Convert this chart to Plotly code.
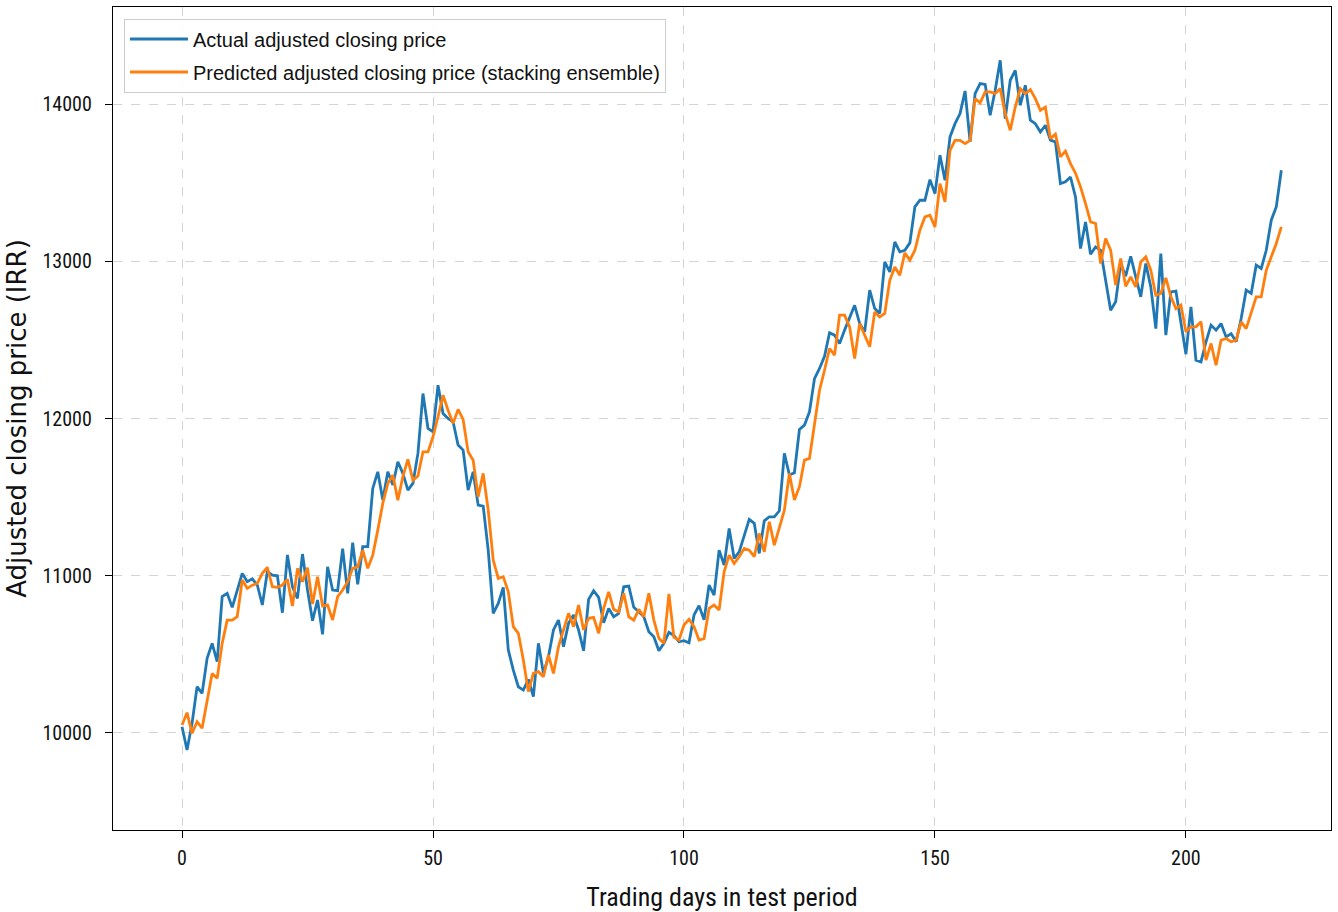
import plotly.graph_objects as go

actual_price = [
    10040, 9892, 10061, 10295, 10252, 10475, 10570, 10453, 10867, 10888,
    10799, 10909, 11015, 10962, 10980, 10941, 10814, 11026, 11004, 11000,
    10765, 11132, 10930, 10856, 11138, 10909, 10714, 10846, 10627, 11057,
    10909, 10905, 11172, 10888, 11210, 10945, 11185, 11185, 11555, 11661,
    11481, 11661, 11577, 11725, 11651, 11545, 11587, 11778, 12159, 11937,
    11916, 12212, 12032, 12000, 11979, 11831, 11799, 11545, 11661, 11449,
    11443, 11163, 10761, 10824, 10926, 10528, 10400, 10294, 10273, 10341,
    10231, 10570, 10379, 10485, 10655, 10718, 10549, 10697, 10750, 10655,
    10523, 10850, 10905, 10862, 10701, 10792, 10739, 10761, 10930, 10934,
    10799, 10771, 10739, 10644, 10612, 10523, 10570, 10640, 10620, 10580,
    10587, 10574, 10750, 10810, 10720, 10941, 10877, 11163, 11068, 11301,
    11110, 11152, 11248, 11358, 11333, 11142, 11349, 11375, 11375, 11413,
    11778, 11640, 11655, 11930, 11958, 12042, 12254, 12318, 12396, 12545,
    12530, 12477, 12562, 12640, 12720, 12604, 12551, 12816, 12699, 12668,
    12996, 12932, 13123, 13060, 13070, 13117, 13346, 13388, 13388, 13519,
    13430, 13674, 13515, 13791, 13875, 13939, 14083, 13759, 14066, 14130,
    14125, 13928, 14087, 14278, 13907, 14151, 14214, 13992, 14119, 13897,
    13875, 13822, 13865, 13770, 13759, 13494, 13505, 13536, 13409, 13081,
    13250, 13045, 13091, 13070, 12890, 12689, 12742, 12986, 12905, 13032,
    12901, 12774, 12986, 12837, 12572, 13049, 12530, 12805, 12810, 12594,
    12409, 12710, 12371, 12360, 12488, 12594, 12562, 12604, 12519, 12540,
    12488, 12636, 12816, 12795, 12975, 12954, 13070, 13261, 13346, 13579,
]

predicted_price = [
    10051, 10129, 9998, 10072, 10030, 10199, 10379, 10348, 10570, 10718,
    10718, 10740, 10973, 10920, 10940, 10951, 11015, 11053, 10930, 10926,
    10941, 10977, 10807, 11047, 10962, 11051, 10820, 10994, 10807, 10814,
    10718, 10867, 10909, 10962, 11047, 11057, 11163, 11047, 11131, 11290,
    11460, 11587, 11640, 11481, 11630, 11740, 11608, 11634, 11788, 11788,
    11884, 12011, 12149, 12053, 11969, 12058, 11994, 11788, 11735, 11502,
    11651, 11418, 11100, 10983, 10994, 10898, 10676, 10634, 10464, 10263,
    10379, 10390, 10358, 10496, 10379, 10549, 10655, 10761, 10676, 10814,
    10655, 10729, 10735, 10634, 10792, 10898, 10786, 10771, 10888, 10739,
    10718, 10786, 10739, 10888, 10718, 10602, 10570, 10884, 10608, 10591,
    10687, 10723, 10676, 10591, 10600, 10792, 10813, 10782, 11025, 11131,
    11078, 11121, 11174, 11163, 11121, 11269, 11152, 11343, 11195, 11301,
    11417, 11650, 11481, 11566, 11735, 11746, 11968, 12180, 12307, 12445,
    12403, 12657, 12657, 12583, 12381, 12604, 12530, 12456, 12678, 12646,
    12668, 12879, 12964, 12911, 13053, 13007, 13070, 13197, 13282, 13293,
    13218, 13494, 13377, 13706, 13769, 13769, 13748, 13769, 14034, 14007,
    14077, 14077, 14066, 14098, 13939, 13833, 13981, 14098, 14066, 14092,
    14034, 13960, 13981, 13780, 13808, 13664, 13700, 13621, 13560, 13473,
    13367, 13250, 13240, 12986, 13144, 13070, 12848, 13017, 12841, 12901,
    12837, 12996, 13028, 12943, 12784, 12795, 12894, 12774, 12699, 12721,
    12551, 12583, 12583, 12615, 12371, 12477, 12339, 12498, 12509, 12488,
    12498, 12615, 12572, 12668, 12774, 12774, 12943, 13028, 13113, 13219,
]

trading_days = list(range(len(actual_price)))
x_ticks = [0, 50, 100, 150, 200]
y_ticks = [10000, 11000, 12000, 13000, 14000]
y_tick_labels = [str(v) for v in y_ticks]

NARROW = "Liberation Sans Narrow, Roboto Condensed, DejaVu Sans Condensed, sans-serif"

fig = go.Figure()
fig.add_trace(go.Scatter(
    x=trading_days, y=actual_price, mode="lines",
    name="Actual adjusted closing price",
    line=dict(color="#1f77b4", width=2.8),
    legendgroup="actual",
))
fig.add_trace(go.Scatter(
    x=trading_days, y=predicted_price, mode="lines",
    name="Predicted adjusted closing price (stacking ensemble)",
    line=dict(color="#ff7f0e", width=2.8),
    legendgroup="pred",
))

axis_common = dict(
    showgrid=True, gridcolor="#d4d4d4", griddash="dash", gridwidth=1,
    showline=True, mirror=True, linecolor="black", linewidth=1.4,
    zeroline=False, ticks="outside", ticklen=7, tickwidth=1.2,
    tickcolor="black",
)

fig.update_layout(
    width=1338, height=912,
    margin=dict(l=113, r=7, t=7, b=82, autoexpand=False),
    paper_bgcolor="white", plot_bgcolor="white",
    showlegend=True,
    legend=dict(
        x=0.009, y=0.986, xanchor="left", yanchor="top",
        bgcolor="rgba(255,255,255,0.9)", bordercolor="#cccccc", borderwidth=1,
        font=dict(family="Liberation Sans, Arial, sans-serif", size=20, color="#111111"),
        traceorder="grouped", tracegroupgap=4, itemwidth=58,
    ),
    xaxis=dict(
        range=[-13.75, 228.9], tickvals=x_ticks,
        tickfont=dict(family=NARROW, size=20, color="#111111"),
        ticklabelstandoff=3,
        title=dict(text="Trading days in test period",
                   font=dict(family=NARROW, size=26, color="#111111"), standoff=18),
        **axis_common,
    ),
    yaxis=dict(
        range=[9383, 14617], tickvals=y_ticks, ticktext=y_tick_labels,
        tickfont=dict(family=NARROW, size=20, color="#111111"),
        ticklabelstandoff=9,
        title=dict(text="Adjusted closing price (IRR)",
                   font=dict(family="DejaVu Sans, sans-serif", size=26, color="#111111"), standoff=8),
        **axis_common,
    ),
)

fig.write_html(
    "out.html",
    config={"displayModeBar": False},
    post_script="document.body.style.margin='0';document.body.style.padding='0';",
)
